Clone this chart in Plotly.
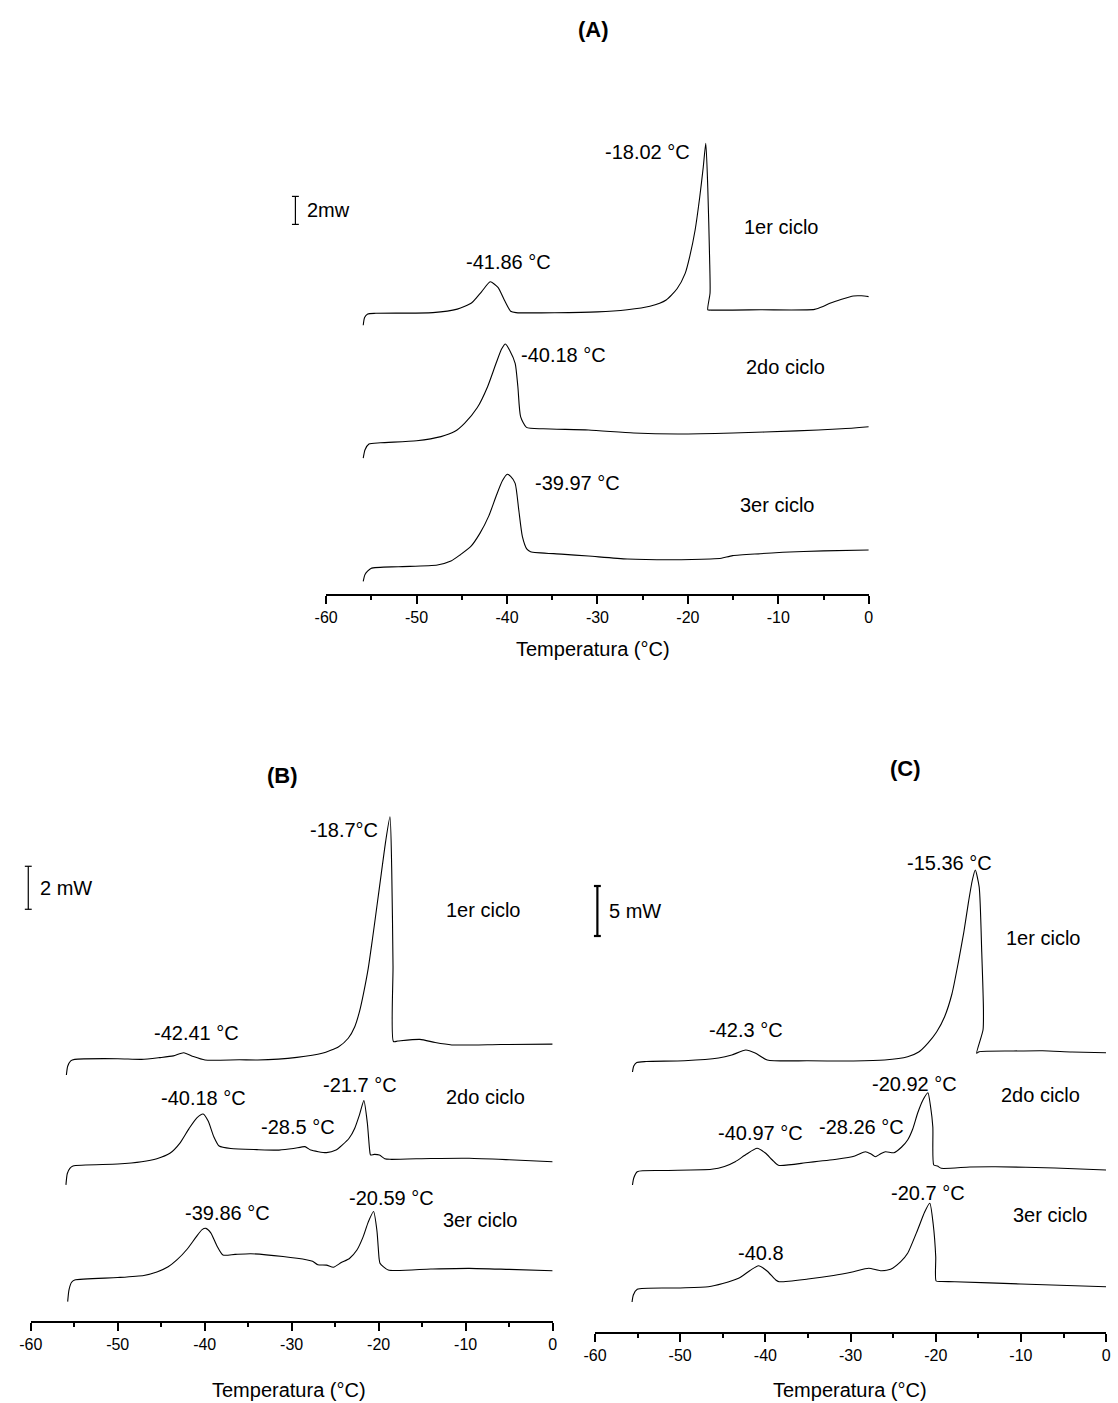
import plotly.graph_objects as go

W, H = 1118, 1403
FONT = "Arial, Liberation Sans, Helvetica, sans-serif"

# Temperature axis (°C)
tick_vals = [-60, -50, -40, -30, -20, -10, 0]
tick_text = ["-60", "-50", "-40", "-30", "-20", "-10", "0"]
minor_vals = [-55, -45, -35, -25, -15, -5]

# ---------------- Panel A: heat flow (mW, stacked) ----------------
a1_t = [-55.9, -55.75, -55.4, -54.5, -48.2, -45.5, -43.9, -42.8, -41.86, -41.0, -40.3, -39.6, -39.0,
        -30.0, -26.7, -24.2, -22.4, -21.2, -20.3, -19.8, -19.2, -18.7, -18.3, -18.02, -17.8, -17.6,
        -17.55, -17.8, -17.5, -12.0, -6.0, -5.0, -4.3, -3.0, -1.7, -0.8, 0.0]
a1_q = [19.2, 19.75, 20.0, 20.05, 20.1, 20.35, 20.8, 21.6, 22.3, 21.9, 21.0, 20.2, 20.1,
        20.15, 20.3, 20.55, 21.0, 21.8, 22.9, 24.1, 26.0, 28.3, 30.5, 32.2, 29.0, 24.0,
        21.5, 20.3, 20.28, 20.3, 20.33, 20.55, 20.76, 21.05, 21.29, 21.3, 21.24]

a2_t = [-55.9, -55.7, -55.27, -54.0, -50.0, -47.3, -45.8, -44.7, -43.3, -42.15, -41.2, -40.6, -40.18,
        -39.7, -39.1, -38.8, -38.5, -37.85, -36.0, -31.0, -26.0, -21.1, -15.0, -8.0, -3.0, 0.0]
a2_q = [9.7, 10.3, 10.71, 10.8, 10.95, 11.24, 11.6, 12.19, 13.3, 14.81, 16.5, 17.5, 17.86,
        17.4, 16.48, 14.8, 12.67, 11.9, 11.8, 11.71, 11.5, 11.43, 11.5, 11.65, 11.8, 11.95]

a3_t = [-55.9, -55.7, -55.05, -52.0, -47.7, -46.2, -45.2, -44.0, -43.0, -42.0, -41.2, -40.5, -39.97,
        -39.6, -39.1, -38.7, -38.3, -37.8, -37.4, -34.0, -31.0, -26.7, -22.0, -17.5, -16.3, -15.05,
        -12.0, -9.5, -5.0, 0.0]
a3_q = [0.9, 1.4, 1.83, 1.95, 2.07, 2.35, 2.79, 3.4, 4.33, 5.6, 7.0, 8.1, 8.55,
        8.4, 7.9, 6.0, 4.1, 3.2, 3.02, 2.85, 2.71, 2.5, 2.45, 2.5, 2.55, 2.74,
        2.88, 2.98, 3.08, 3.14]

# ---------------- Panel B ----------------
b1_t = [-55.9, -55.75, -55.4, -54.94, -50.0, -47.25, -45.2, -43.6, -42.41, -41.3, -39.96, -36.0, -33.9,
        -29.4, -26.5, -24.6, -23.5, -22.75, -22.2, -21.74, -21.2, -20.73, -20.2, -19.7, -19.2, -18.7,
        -18.5, -18.35, -18.3, -17.8, -15.26, -13.5, -11.6, -6.0, 0.0]
b1_q = [11.44, 11.85, 12.1, 12.17, 12.2, 12.17, 12.25, 12.33, 12.48, 12.3, 12.14, 12.15, 12.14,
        12.26, 12.45, 12.76, 13.15, 13.69, 14.4, 15.24, 16.4, 17.72, 19.3, 20.81, 22.3, 23.45,
        21.0, 16.5, 13.0, 13.02, 13.1, 12.95, 12.84, 12.86, 12.88]

b2_t = [-55.95, -55.8, -55.5, -55.14, -50.0, -47.25, -45.5, -44.0, -42.8, -41.8, -40.9, -40.18, -39.6,
        -38.95, -38.34, -37.0, -34.0, -31.46, -29.8, -28.5, -28.2, -27.81, -26.0, -24.9, -24.17,
        -23.4, -22.75, -22.2, -21.7, -21.3, -21.05, -20.93, -20.5, -19.92, -19.3, -18.7, -14.0,
        -9.6, -5.0, 0.0]
b2_q = [6.33, 6.85, 7.1, 7.21, 7.3, 7.41, 7.55, 7.8, 8.3, 8.95, 9.45, 9.63, 9.3,
        8.57, 8.14, 8.02, 7.97, 7.95, 8.02, 8.11, 8.05, 7.95, 7.83, 7.95, 8.19,
        8.5, 8.97, 9.6, 10.25, 9.2, 8.0, 7.72, 7.75, 7.72, 7.55, 7.52, 7.56,
        7.57, 7.5, 7.41]

b3_t = [-55.75, -55.6, -55.3, -54.94, -50.0, -47.0, -45.5, -44.2, -43.2, -42.0, -41.0, -40.3, -39.86,
        -39.3, -38.6, -37.9, -36.5, -34.7, -31.0, -28.2, -27.6, -27.0, -26.0, -25.2, -24.3, -23.36,
        -22.5, -21.8, -21.2, -20.59, -20.2, -19.95, -19.84, -18.9, -14.0, -9.6, -5.0, 0.0]
b3_q = [0.9, 1.45, 1.8, 1.91, 2.02, 2.12, 2.28, 2.52, 2.84, 3.35, 3.9, 4.25, 4.31,
        4.1, 3.5, 3.07, 3.1, 3.13, 3.0, 2.84, 2.78, 2.62, 2.6, 2.5, 2.72, 2.91,
        3.3, 3.9, 4.6, 5.09, 4.2, 2.9, 2.68, 2.37, 2.42, 2.45, 2.4, 2.34]

# ---------------- Panel C ----------------
c1_t = [-55.6, -55.45, -55.1, -54.0, -49.5, -45.5, -43.94, -42.3, -41.2, -39.78, -35.0, -29.66, -26.0,
        -23.3, -22.0, -20.94, -19.9, -18.96, -18.1, -17.37, -16.7, -16.18, -15.7, -15.36, -14.9,
        -14.6, -14.4, -14.45, -15.2, -14.9, -11.0, -7.46, -4.0, 0.0]
c1_q = [26.0, 26.6, 26.95, 27.05, 27.13, 27.4, 27.7, 28.2, 27.9, 27.2, 27.12, 27.1, 27.2,
        27.53, 28.0, 28.87, 30.0, 31.53, 33.8, 36.87, 40.0, 42.87, 45.2, 46.2, 44.5,
        38.0, 32.2, 30.2, 27.87, 28.03, 28.1, 28.13, 28.0, 27.93]

c2_t = [-55.6, -55.45, -55.04, -52.0, -46.32, -44.8, -43.54, -42.2, -40.97, -40.0, -39.18, -38.47,
        -35.0, -31.65, -29.5, -28.26, -27.6, -27.09, -26.5, -25.9, -24.9, -24.0, -23.3, -22.7,
        -22.13, -21.5, -20.92, -20.6, -20.34, -20.23, -19.8, -19.35, -16.0, -13.0, -6.0, 0.0]
c2_q = [14.7, 15.4, 16.03, 16.15, 16.27, 16.55, 17.03, 17.8, 18.37, 17.9, 17.2, 16.67,
        16.95, 17.27, 17.6, 18.03, 17.8, 17.53, 17.8, 18.03, 17.93, 18.5, 19.2, 20.3,
        21.87, 23.2, 23.93, 22.5, 20.5, 16.7, 16.6, 16.37, 16.5, 16.53, 16.4, 16.2]

c3_t = [-55.65, -55.5, -55.04, -50.0, -46.7, -45.0, -43.15, -41.8, -40.8, -39.8, -38.78, -38.39,
        -35.0, -32.0, -29.66, -27.88, -26.49, -25.3, -24.11, -23.3, -22.13, -21.3, -20.7, -20.3,
        -20.0, -19.95, -19.3, -17.77, -10.0, 0.0]
c3_q = [3.0, 3.7, 4.27, 4.4, 4.53, 4.85, 5.37, 6.15, 6.63, 6.1, 5.2, 5.03,
        5.3, 5.65, 6.03, 6.37, 6.13, 6.27, 7.03, 7.87, 10.2, 12.0, 12.87, 10.8,
        7.5, 5.1, 5.05, 5.03, 4.8, 4.53]

# Peak / cycle labels: (text, temperature, heat-flow position)
a_labels = [("-41.86 °C", -39.8, 23.74), ("-18.02 °C", -24.5, 31.6), ("1er ciclo", -9.68, 26.24),
            ("-40.18 °C", -33.76, 17.07), ("2do ciclo", -9.16, 16.24),
            ("-39.97 °C", -32.17, 7.9), ("3er ciclo", -10.2, 6.36)]
b_labels = [("-18.7°C", -23.97, 22.84), ("1er ciclo", -7.98, 19.12), ("-42.41 °C", -40.97, 13.38),
            ("-40.18 °C", -40.16, 10.36), ("-21.7 °C", -22.15, 10.98), ("2do ciclo", -7.77, 10.43),
            ("-28.5 °C", -29.23, 9.04), ("-39.86 °C", -37.33, 5.01), ("-20.59 °C", -18.5, 5.71),
            ("3er ciclo", -8.38, 4.7)]
c_labels = [("-15.36 °C", -18.36, 46.87), ("1er ciclo", -7.46, 39.37), ("-42.3 °C", -42.23, 30.2),
            ("-20.92 °C", -22.45, 24.8), ("2do ciclo", -7.65, 23.7), ("-40.97 °C", -40.57, 19.87),
            ("-28.26 °C", -28.67, 20.47), ("-20.7 °C", -20.94, 13.87), ("3er ciclo", -6.58, 11.7),
            ("-40.8", -40.49, 7.93)]

# Scale bars: (label, temperature of bar, bottom value, length in mW)
a_bar = ("2mw", -63.4, 26.4, 2.0)
b_bar = ("2 mW", -60.28, 19.15, 2.0)
c_bar = ("5 mW", -59.72, 39.6, 5.0)

# Panel geometry (pixel positions of the axes)
panels = [
    dict(name="A", xa="x", ya="y", px0=319, px1=870, py_axis=594, py_top=120, ppu=14.0,
         curves=[(a1_t, a1_q), (a2_t, a2_q), (a3_t, a3_q)], labels=a_labels, bar=a_bar,
         bar_w=1.2, title=("(A)", 590, 30), xtitle=(590, 649)),
    dict(name="B", xa="x2", ya="y2", px0=19, px1=549, py_axis=1321, py_top=800, ppu=21.5,
         curves=[(b1_t, b1_q), (b2_t, b2_q), (b3_t, b3_q)], labels=b_labels, bar=b_bar,
         bar_w=1.2, title=("(B)", 275, 775), xtitle=(281, 1390)),
    dict(name="C", xa="x3", ya="y3", px0=592, px1=1111, py_axis=1332, py_top=800, ppu=10.0,
         curves=[(c1_t, c1_q), (c2_t, c2_q), (c3_t, c3_q)], labels=c_labels, bar=c_bar,
         bar_w=2.2, title=("(C)", 907, 768), xtitle=(851, 1390)),
]

fig = go.Figure()
annotations = []
shapes = []
layout_axes = {}

for i, p in enumerate(panels):
    xd = [p["px0"] / W, p["px1"] / W]
    yd = [1 - p["py_axis"] / H, 1 - p["py_top"] / H]
    yr = [0, (p["py_axis"] - p["py_top"]) / p["ppu"]]

    for t, q in p["curves"]:
        fig.add_trace(go.Scatter(x=t, y=q, mode="lines", xaxis=p["xa"], yaxis=p["ya"],
                                 line=dict(color="black", width=1.1, shape="spline", smoothing=0.6),
                                 hoverinfo="skip", showlegend=False))

    suffix = "" if i == 0 else str(i + 1)
    layout_axes["xaxis" + suffix] = dict(
        domain=xd, range=[-60, 0], anchor="y" + suffix, showline=True, linecolor="black",
        linewidth=2, ticks="outside", ticklen=8, tickwidth=2, tickcolor="black",
        tickvals=tick_vals, ticktext=tick_text, showgrid=False, zeroline=False,
        tickfont=dict(family=FONT, size=16, color="black"),
        minor=dict(tickvals=minor_vals, ticks="outside", ticklen=4, tickwidth=1.5,
                   tickcolor="black", showgrid=False),
        fixedrange=True)
    layout_axes["yaxis" + suffix] = dict(domain=yd, range=yr, anchor="x" + suffix,
                                         visible=False, fixedrange=True)

    for text, t, q in p["labels"]:
        annotations.append(dict(text=text, x=t, y=q, xref=p["xa"], yref=p["ya"],
                                showarrow=False, xanchor="center", yanchor="middle",
                                font=dict(family=FONT, size=20, color="black")))

    # scale bar converted from data units to page position
    lab, bt, bq, blen = p["bar"]
    bx = xd[0] + (bt + 60) / 60 * (xd[1] - xd[0])
    y0 = yd[0] + bq / yr[1] * (yd[1] - yd[0])
    y1 = yd[0] + (bq + blen) / yr[1] * (yd[1] - yd[0])
    cap = 3.5 / W
    shapes.append(dict(type="line", xref="paper", yref="paper", x0=bx, x1=bx, y0=y0, y1=y1,
                       line=dict(color="black", width=p["bar_w"])))
    for yy in (y0, y1):
        shapes.append(dict(type="line", xref="paper", yref="paper", x0=bx - cap, x1=bx + cap,
                           y0=yy, y1=yy, line=dict(color="black", width=p["bar_w"])))
    annotations.append(dict(text=lab, x=bx + 10 / W, y=(y0 + y1) / 2, xref="paper", yref="paper",
                            showarrow=False, xanchor="left", yanchor="middle",
                            font=dict(family=FONT, size=20, color="black")))

    # panel title and axis title
    ttxt, tx, ty = p["title"]
    annotations.append(dict(text="<b>" + ttxt + "</b>", x=tx / W, y=1 - ty / H, xref="paper",
                            yref="paper", showarrow=False, xanchor="center", yanchor="middle",
                            font=dict(family=FONT, size=22, color="black")))
    ax, ay = p["xtitle"]
    annotations.append(dict(text="Temperatura (°C)", x=ax / W, y=1 - ay / H, xref="paper",
                            yref="paper", showarrow=False, xanchor="center", yanchor="middle",
                            font=dict(family=FONT, size=20, color="black")))

fig.update_layout(width=W, height=H, autosize=False,
                  margin=dict(l=0, r=0, t=0, b=0),
                  paper_bgcolor="white", plot_bgcolor="white",
                  showlegend=False, annotations=annotations, shapes=shapes,
                  **layout_axes)

fig.write_html("out.html", config={"displayModeBar": False})
